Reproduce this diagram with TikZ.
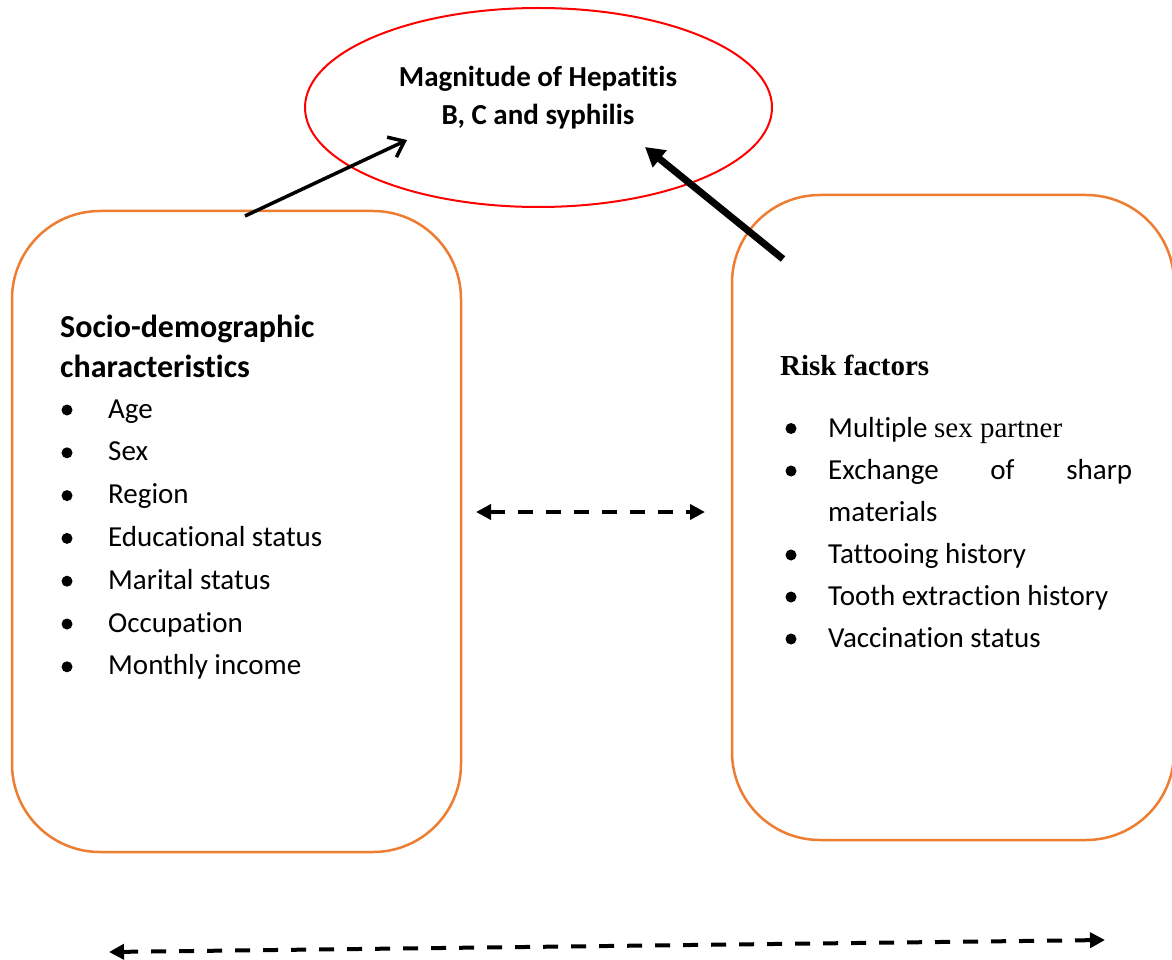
\documentclass[tikz,border=0pt]{standalone}
\usepackage{fontspec}
\setmainfont{Carlito}[RawFeature={-liga;-clig;-calt;-dlig}]
\newfontfamily\tnr{Liberation Serif}
\usetikzlibrary{arrows.meta,shapes.geometric}
\definecolor{boxorange}{RGB}{237,125,49}
\definecolor{ellred}{RGB}{255,0,0}
\begin{document}
\begin{tikzpicture}[x=1pt,y=-1pt,
  boxstyle/.style={draw=boxorange,line width=2.5pt,rounded corners=88pt,inner sep=0pt},
  bodytext/.style={anchor=base west,inner sep=0pt,font=\fontsize{29}{34}\selectfont},
  headtext/.style={anchor=base west,inner sep=0pt,font=\bfseries\fontsize{32}{40}\selectfont},
  bulletdot/.style={fill=black},
  thinarrow/.style={line width=3.5pt,-{Straight Barb[length=14pt,width=22pt,line width=3.5pt]}},
  thickarrow/.style={line width=7pt,-{Triangle[length=19pt,width=21pt]}},
  dasharrow/.style={line width=4pt,dash pattern=on 15pt off 13pt,{Triangle[length=15pt,width=15pt]}-{Triangle[length=15pt,width=15pt]}}
]
\useasboundingbox (0,0) rectangle (1172,960);
\fill[white] (0,0) rectangle (1172,960);

% ellipse
\node[draw=ellred,line width=2pt,ellipse,minimum width=467pt,minimum height=199pt,inner sep=0pt] (ell) at (538.5,107.5) {};
\node[anchor=base,inner sep=0pt,font=\bfseries\fontsize{29}{37}\selectfont] (t1) at (538,87) {Magnitude of Hepatitis};
\node[anchor=base,inner sep=0pt,font=\bfseries\fontsize{29}{37}\selectfont] (t2) at (538,125) {B, C and syphilis};

% boxes
\node[boxstyle,minimum width=449pt,minimum height=641pt] (left) at (236.5,531.5) {};
\node[boxstyle,minimum width=442pt,minimum height=645pt] (right) at (953,517.5) {};

% left content
\node[headtext] (h1) at (60,337) {Socio-demographic};
\node[headtext] (h2) at (60,377) {characteristics};
\foreach \txt [count=\i from 0] in {Age,Sex,Region,Educational status,Marital status,Occupation,Monthly income}{
  \fill[bulletdot] (67,{410+42.8*\i}) circle (5.5pt);
  \node[bodytext] (l\i) at (108,{418+42.8*\i}) {\txt};
}

% right content
\node[anchor=base west,inner sep=0pt,font=\tnr\bfseries\fontsize{29}{34}\selectfont] (rh) at (780,375) {Risk factors};
\foreach \yy in {437,479.5,563.5,605.5,647.5}{
  \fill[bulletdot] (791,{\yy-8.5}) circle (5.5pt);
}
\node[bodytext] (r1) at (828,437) {Multiple {\tnr sex partner}};
\node[bodytext] (r2) at (828,479.5) {\makebox[304pt][s]{Exchange of sharp}};
\node[bodytext] (r3) at (828,521.5) {materials};
\node[bodytext] (r4) at (828,563.5) {Tattooing history};
\node[bodytext] (r5) at (828,605.5) {Tooth extraction history};
\node[bodytext] (r6) at (828,647.5) {Vaccination status};

% connectors
\coordinate (a1s) at (245,216);
\coordinate (a1e) at (407,140);
\coordinate (a2s) at (783,259);
\coordinate (a2e) at (645,147);
\coordinate (m1) at (476,512);
\coordinate (m2) at (705,512);
\coordinate (b1) at (109,952);
\coordinate (b2) at (1105,940);
\draw[thinarrow] (a1s) -- (a1e);
\draw[thickarrow] (a2s) -- (a2e);
\draw[dasharrow] (m1) -- (m2);
\draw[dasharrow] (b1) -- (b2);
\end{tikzpicture}
\end{document}
